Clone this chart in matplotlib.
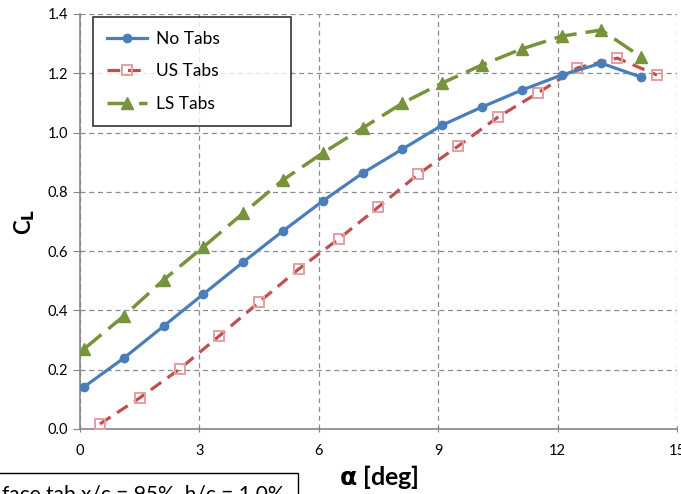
import numpy as np
import matplotlib
matplotlib.use('Agg')
import matplotlib.pyplot as plt
from matplotlib.patches import Rectangle

plt.rcParams['font.family'] = ['Lato', 'DejaVu Sans']

# lift coefficient vs angle of attack
alpha_no = [0.1, 1.1, 2.1, 3.1, 4.1, 5.1, 6.1, 7.1, 8.1, 9.1, 10.1, 11.1, 12.1, 13.1, 14.1]
cl_no = [0.142, 0.239, 0.347, 0.455, 0.563, 0.668, 0.769, 0.863, 0.944, 1.025,
         1.086, 1.143, 1.194, 1.234, 1.187]

alpha_us = [0.5, 1.5, 2.5, 3.5, 4.5, 5.5, 6.5, 7.5, 8.5, 9.5, 10.5, 11.5, 12.5, 13.5, 14.5]
cl_us = [0.017, 0.105, 0.202, 0.314, 0.428, 0.540, 0.641, 0.749, 0.860, 0.954,
         1.052, 1.133, 1.218, 1.251, 1.194]

alpha_ls = [0.1, 1.1, 2.1, 3.1, 4.1, 5.1, 6.1, 7.1, 8.1, 9.1, 10.1, 11.1, 12.1, 13.1, 14.1]
cl_ls = [0.270, 0.381, 0.503, 0.614, 0.728, 0.840, 0.931, 1.015, 1.099, 1.167,
         1.228, 1.282, 1.325, 1.346, 1.255]

fig = plt.figure(figsize=(6.81, 4.94), dpi=100)
ax = fig.add_axes([0.1175, 0.1316, 0.8765, 0.8401])

ax.plot(alpha_no, cl_no, color='#4A7EBB', lw=2.3, marker='o', ms=6,
        label='No Tabs', zorder=4)
ax.plot(alpha_us, cl_us, color='#C0504D', lw=2.3, dashes=(4, 2.4),
        marker='s', ms=7.5, mfc='none', mec='#E3A09F', mew=1.4,
        label='US Tabs', zorder=3)
ax.plot(alpha_ls, cl_ls, color='#77933C', lw=2.5, dashes=(6.5, 2.6),
        marker='^', ms=9, label='LS Tabs', zorder=3)

ax.set_xlim(0, 15)
ax.set_ylim(0, 1.4)
ax.set_xticks(np.arange(0, 16, 3))
ax.set_yticks(np.arange(0, 1.41, 0.2))
ax.yaxis.set_major_formatter(matplotlib.ticker.FormatStrFormatter('%.1f'))
ax.tick_params(labelsize=10.5, colors='#868686', labelcolor='black', length=5)
ax.tick_params(axis='x', direction='inout', pad=8)

ax.grid(True, color='#8c8c8c', ls=(0, (4, 3)), lw=0.9)
for s in ['top', 'right']:
    ax.spines[s].set_visible(False)
for s in ['left', 'bottom']:
    ax.spines[s].set_color('#868686')
    ax.spines[s].set_linewidth(1.2)

ax.set_xlabel(r'$\mathbf{\alpha}$ [deg]', fontsize=18, fontweight='bold', labelpad=4)
ax.set_ylabel(r'C$_\mathbf{L}$', fontsize=16, fontweight='bold', labelpad=8)

leg = ax.legend(loc='upper left', bbox_to_anchor=(0.0218, 0.7518, 0.3317, 0.241),
                mode='expand', borderaxespad=0, fontsize=12.5,
                frameon=True, fancybox=False, edgecolor='black',
                handlelength=2.3, handletextpad=0.5, borderpad=0.8,
                labelspacing=0.95)
leg.get_frame().set_linewidth(1.2)

# note box at the bottom edge
fig.patches.append(Rectangle((-0.01, -0.05), 0.447, 0.093, transform=fig.transFigure,
                             fill=False, edgecolor='black', lw=1.0))
fig.text(0.003, -0.013, 'face tab x/c = 95%, h/c = 1.0%', fontsize=15)

fig.savefig('out.png', dpi=100)
